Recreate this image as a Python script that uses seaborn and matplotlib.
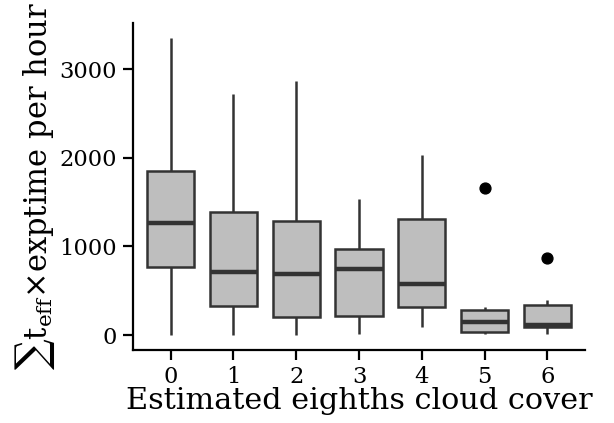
import numpy as np
import pandas as pd
import matplotlib
matplotlib.use("Agg")
import matplotlib.pyplot as plt
import seaborn as sns

# Five-number summaries per cloud-cover class (eighths of sky)
cloud_cover = [0, 1, 2, 3, 4, 5, 6]
whisker_low = [0, 0, 0, 11, 90, 11, 11]
q1 = [770, 330, 207, 214, 316, 30, 87]
median = [1267, 710, 691, 741, 572, 143, 113]
q3 = [1853, 1387, 1289, 966, 1305, 282, 338]
whisker_high = [3353, 2715, 2868, 1534, 2030, 319, 391]
outliers = [[], [], [], [], [], [1661], [872]]

# Long table whose quartiles and whiskers reproduce the summaries above
rows = []
for c, lo, a, m, b, hi, out in zip(cloud_cover, whisker_low, q1, median, q3,
                                   whisker_high, outliers):
    k = len(out) + 1
    vals = [lo] + [a] * k + [m] * k + [b] * k + [hi] + list(out)
    rows += [(c, v) for v in vals]
df = pd.DataFrame(rows, columns=["cover", "value"])

sns.set_style("white")
plt.rcParams["font.family"] = ["DejaVu Serif"]
plt.rcParams["mathtext.fontset"] = "dejavuserif"

fig = plt.figure(figsize=(6.14, 4.23), dpi=100)
ax = fig.add_axes([0.2166, 0.1726, 0.9528 - 0.2166, 0.9456 - 0.1726])

sns.boxplot(data=df, x="cover", y="value", order=cloud_cover, ax=ax,
            color="#BEBEBE", saturation=1, linecolor="#333333",
            linewidth=1.8, width=0.75, showcaps=False,
            medianprops=dict(linewidth=3.2, color="#333333"),
            flierprops=dict(marker="o", markerfacecolor="black",
                            markeredgecolor="black", markersize=7.8))

ax.set_xlim(-0.6, 6.6)
ax.set_ylim(-169, 3519)
ax.set_yticks([0, 1000, 2000, 3000])
ax.set_xticks(range(len(cloud_cover)))
ax.set_xticklabels([str(c) for c in cloud_cover])

for side in ["top", "right"]:
    ax.spines[side].set_visible(False)
for side in ["left", "bottom"]:
    ax.spines[side].set_color("black")
    ax.spines[side].set_linewidth(1.6)

ax.tick_params(axis="both", which="major", length=7.5, width=1.6,
               color="black", labelsize=16.3, labelcolor="black",
               direction="out", left=True, bottom=True)
ax.tick_params(axis="y", pad=4)
ax.tick_params(axis="x", pad=4)

ax.set_xlabel("Estimated eighths cloud cover", fontsize=21.8, labelpad=-1,
              color="black")
ax.set_ylabel(r"$\sum\mathrm{t}_{\mathrm{eff}}$×exptime per hour",
              fontsize=22, labelpad=2, color="black")

fig.savefig("out.png", dpi=100)
